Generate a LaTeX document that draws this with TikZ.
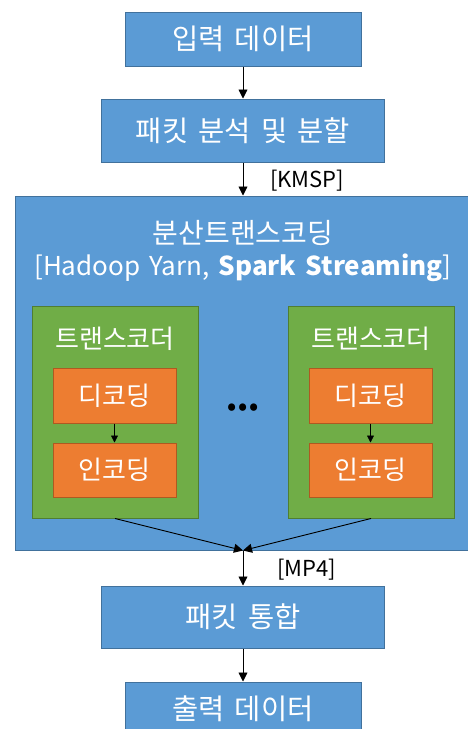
\documentclass[tikz,border=0pt]{standalone}
\usepackage{fontspec}
\setmainfont{Noto Sans CJK KR}[WordSpace=1.6]
\usetikzlibrary{arrows.meta,positioning}
\definecolor{BoxBlue}{HTML}{5B9BD5}
\definecolor{LineBlue}{HTML}{41719C}
\definecolor{BoxGreen}{HTML}{70AD47}
\definecolor{LineGreen}{HTML}{507E32}
\definecolor{BoxOrange}{HTML}{ED7D31}
\definecolor{LineOrange}{HTML}{AE5A21}
\tikzset{
  stagebox/.style={
    rectangle, draw=LineBlue, fill=BoxBlue, line width=1pt, inner sep=0pt,
    text=white, font=\fontsize{28.5}{33}\selectfont
  },
  coderbox/.style={
    rectangle, draw=LineGreen, fill=BoxGreen, line width=1pt, inner sep=0pt,
    minimum width=166pt, minimum height=212pt
  },
  workbox/.style={
    rectangle, draw=LineOrange, fill=BoxOrange, line width=1pt, inner sep=0pt,
    minimum width=123pt, minimum height=55pt, text=white, font=\fontsize{26}{30}\selectfont
  },
  boxtitle/.style={text=white, inner sep=0pt, font=\fontsize{26}{30}\selectfont},
  flowarrow/.style={-{Triangle[width=9pt,length=9pt]}, black, line width=0.9pt},
  smallarrow/.style={-{Triangle[width=7pt,length=7pt]}, black, line width=0.8pt},
  fmtlabel/.style={inner sep=0pt, anchor=west, font=\fontsize{22}{26}\selectfont},
}
\begin{document}
\begin{tikzpicture}[x=1pt,y=-1pt]
  \clip (0,0) rectangle (468,729);
  % main pipeline
  \node[stagebox, minimum width=236pt, minimum height=54pt] (inp) at (243,39) {입력 데이터};
  \node[stagebox, minimum width=283pt, minimum height=63pt] (split) at (243,130.5) {패킷 분석 및 분할};
  \node[stagebox, minimum width=456pt, minimum height=354pt] (dist) at (243,373) {};
  \node[boxtitle, font=\fontsize{28}{32}\selectfont] (distname) at (243,233) {분산트랜스코딩};
  \node[boxtitle, font=\fontsize{26}{30}\selectfont] (distsys) at (243,268) {[Hadoop Yarn, \textbf{Spark Streaming}]};
  % transcoders
  \node[coderbox] (tcA) at (115,412) {};
  \node[boxtitle] (tcAname) at (115,339) {트랜스코더};
  \node[workbox] (decA) at (114.5,395.5) {디코딩};
  \node[workbox, minimum height=54pt] (encA) at (114.5,470) {인코딩};
  \node[coderbox] (tcB) at (371,412) {};
  \node[boxtitle] (tcBname) at (371,339) {트랜스코더};
  \node[workbox] (decB) at (370.5,395.5) {디코딩};
  \node[workbox, minimum height=54pt] (encB) at (370.5,470) {인코딩};
  \node[inner sep=0pt, font=\fontsize{23}{26}\selectfont\bfseries] (dots) at (243,409) {•\hspace{2pt}•\hspace{2pt}•};
  \node[stagebox, minimum width=283pt, minimum height=62pt] (merge) at (243,617) {패킷 통합};
  \node[stagebox, minimum width=236pt, minimum height=54pt] (out) at (243,709) {출력 데이터};
  % labels
  \node[fmtlabel] (kmsp) at (270,181) {[KMSP]};
  \node[fmtlabel] (mpfour) at (277,570) {[MP4]};
  % arrows
  \draw[flowarrow] (inp) -- (split);
  \draw[flowarrow] (split) -- (dist);
  \draw[smallarrow] (decA) -- (encA);
  \draw[smallarrow] (decB) -- (encB);
  \draw[flowarrow] (tcA.south) -- (dist.south);
  \draw[flowarrow] (tcB.south) -- (dist.south);
  \draw[flowarrow] (dist.south) -- (merge);
  \draw[flowarrow] (merge) -- (out);
\end{tikzpicture}
\end{document}
